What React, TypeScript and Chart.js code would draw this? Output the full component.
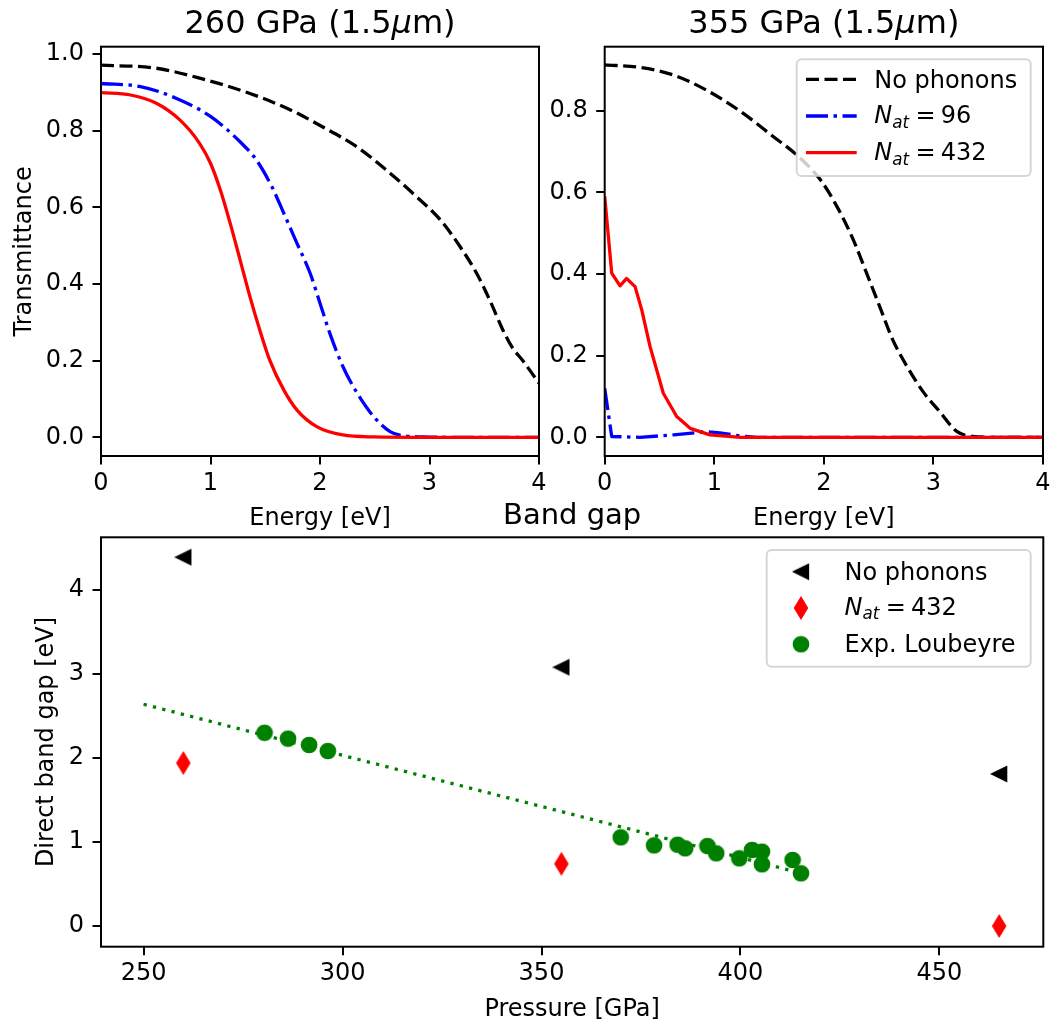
import React, { useEffect, useRef } from 'react';
import { Chart, registerables } from 'chart.js';

Chart.register(...registerables);

// ---------------- DATA ----------------
const seriesNames = ['No phonons', 'N_at = 96', 'N_at = 432'];

// Panel 1: 260 GPa (1.5 µm) — transmittance vs energy
const e260NoPhonons = [0, 0.5, 0.9, 1.36, 1.73, 2.03, 2.34, 2.64, 2.88, 3.1, 3.28, 3.43, 3.55, 3.67, 3.75, 3.86, 4.0];
const t260NoPhonons = [0.971, 0.963, 0.937, 0.897, 0.854, 0.809, 0.757, 0.689, 0.628, 0.567, 0.497, 0.428, 0.358, 0.28, 0.237, 0.197, 0.141];
const e260Nat96 = [0, 0.36, 0.69, 1.0, 1.27, 1.42, 1.56, 1.67, 1.79, 1.91, 2.0, 2.09, 2.21, 2.34, 2.49, 2.64, 2.76, 2.94, 3.2, 4.0];
const t260Nat96 = [0.923, 0.915, 0.884, 0.837, 0.771, 0.723, 0.654, 0.584, 0.506, 0.428, 0.35, 0.271, 0.184, 0.115, 0.054, 0.015, 0.004, 0.001, 0, 0];
const e260Nat432 = [0, 0.27, 0.51, 0.72, 0.9, 1.0, 1.09, 1.18, 1.27, 1.36, 1.45, 1.54, 1.67, 1.79, 1.97, 2.21, 2.49, 2.94, 4.0];
const t260Nat432 = [0.899, 0.893, 0.871, 0.828, 0.767, 0.715, 0.645, 0.558, 0.463, 0.367, 0.28, 0.202, 0.123, 0.071, 0.028, 0.006, 0.001, 0, 0];

// Panel 2: 355 GPa (1.5 µm)
const e355NoPhonons = [0, 0.32, 0.63, 0.93, 1.24, 1.54, 1.75, 1.97, 2.12, 2.27, 2.39, 2.51, 2.63, 2.76, 2.91, 3.06, 3.21, 3.36, 3.52, 4.0];
const t355NoPhonons = [0.912, 0.906, 0.887, 0.85, 0.798, 0.736, 0.692, 0.63, 0.565, 0.483, 0.402, 0.32, 0.238, 0.173, 0.11, 0.062, 0.015, 0.002, 0, 0];
const e355Nat96 = [0, 0.064, 0.32, 0.63, 0.93, 1.05, 1.24, 1.39, 4.0];
const t355Nat96 = [0.12, 0.002, 0, 0.006, 0.014, 0.011, 0.003, 0, 0];
const e355Nat432 = [0, 0.064, 0.14, 0.2, 0.277, 0.338, 0.414, 0.535, 0.657, 0.78, 0.96, 1.24, 4.0];
const t355Nat432 = [0.59, 0.402, 0.371, 0.389, 0.369, 0.312, 0.222, 0.108, 0.051, 0.022, 0.006, 0, 0];

const energyTicks = [0, 1, 2, 3, 4];
const transTicks260 = [0, 0.2, 0.4, 0.6, 0.8, 1.0];
const transTicks355 = [0, 0.2, 0.4, 0.6, 0.8];

// Panel 3: Band gap vs pressure
const pressureNoPhonons = [260, 355, 465];
const gapNoPhonons = [4.39, 3.08, 1.81];
const pressureNat432 = [260, 355, 465];
const gapNat432 = [1.94, 0.74, 0.0];
const pressureExp = [280.4, 286.3, 291.6, 296.3, 369.9, 378.3, 384.2, 386.1, 391.7, 393.9, 399.7, 402.9, 405.4, 405.4, 413.1, 415.2];
const gapExp = [2.3, 2.23, 2.155, 2.083, 1.056, 0.96, 0.968, 0.925, 0.952, 0.865, 0.806, 0.905, 0.885, 0.734, 0.786, 0.627];
const pressureFit = [250, 415.2];
const gapFit = [2.64, 0.63];
const pressureTicks = [250, 300, 350, 400, 450];
const gapTicks = [0, 1, 2, 3, 4];

// ---------------- STYLE ----------------
const FAMILY = '"DejaVu Sans"';
const LW = 3.3;
const DASH_NO = [13, 5.5];
const DASH_96 = [22, 5.5, 3.5, 5.5];
const DASH_FIT = [3.3, 6.3];
const BLACK = '#000000';
const BLUE = '#0000ff';
const RED = '#ff0000';
const GREEN = '#008000';

type Seg = { t: string; size: number; italic?: boolean; dy?: number; gap?: number };

function segFont(s: Seg) {
  return `${s.italic ? 'italic ' : ''}${s.size}px ${FAMILY}`;
}
function richWidth(ctx: CanvasRenderingContext2D, segs: Seg[]) {
  let w = 0;
  for (const s of segs) {
    ctx.font = segFont(s);
    w += (s.gap || 0) + ctx.measureText(s.t).width;
  }
  return w;
}
function drawRich(ctx: CanvasRenderingContext2D, segs: Seg[], x: number, y: number, align: 'left' | 'center') {
  ctx.save();
  ctx.fillStyle = '#000';
  ctx.textAlign = 'left';
  ctx.textBaseline = 'alphabetic';
  const w = richWidth(ctx, segs);
  let cx = align === 'center' ? x - w / 2 : x;
  for (const s of segs) {
    cx += s.gap || 0;
    ctx.font = segFont(s);
    ctx.fillText(s.t, cx, y + (s.dy || 0));
    cx += ctx.measureText(s.t).width;
  }
  ctx.restore();
}
function drawRotated(ctx: CanvasRenderingContext2D, segs: Seg[], baselineX: number, centerY: number) {
  ctx.save();
  ctx.translate(baselineX, centerY);
  ctx.rotate(-Math.PI / 2);
  drawRich(ctx, segs, 0, 0, 'center');
  ctx.restore();
}
function titleSegs(p: string): Seg[] {
  return [
    { t: `${p} GPa (1.5`, size: 32 },
    { t: 'μ', size: 32, italic: true },
    { t: 'm)', size: 32 },
  ];
}
function natSegs(n: string, size: number): Seg[] {
  return [
    { t: 'N', size, italic: true },
    { t: 'at', size: size * 0.7, italic: true, dy: 4.5 },
    { t: '=', size, gap: 6.5 },
    { t: n, size, gap: 5 },
  ];
}
function drawFrame(chart: any) {
  const { ctx, chartArea: a } = chart;
  ctx.save();
  ctx.strokeStyle = '#000';
  ctx.lineWidth = 2;
  ctx.setLineDash([]);
  ctx.strokeRect(a.left, a.top, a.right - a.left, a.bottom - a.top);
  ctx.restore();
}
function legendBox(ctx: CanvasRenderingContext2D, x: number, y: number, w: number, h: number) {
  ctx.save();
  ctx.beginPath();
  (ctx as any).roundRect(x, y, w, h, 5);
  ctx.fillStyle = 'rgba(255,255,255,0.8)';
  ctx.fill();
  ctx.strokeStyle = 'rgba(204,204,204,0.8)';
  ctx.lineWidth = 2;
  ctx.stroke();
  ctx.restore();
}

function markerCanvas(kind: 'tri' | 'diamond' | 'circle', color: string): HTMLCanvasElement {
  const c = document.createElement('canvas');
  const W = kind === 'diamond' ? 16 : 18;
  const H = kind === 'diamond' ? 26 : 18;
  c.width = W;
  c.height = H;
  const g = c.getContext('2d')!;
  g.fillStyle = color;
  g.strokeStyle = color;
  g.lineWidth = 1.5;
  const cx = W / 2;
  const cy = H / 2;
  g.beginPath();
  if (kind === 'tri') {
    const s = 7.4;
    g.moveTo(cx - s, cy);
    g.lineTo(cx + s, cy - s);
    g.lineTo(cx + s, cy + s);
    g.closePath();
  } else if (kind === 'diamond') {
    const hh = 10.6;
    const hw = 6.4;
    g.moveTo(cx, cy - hh);
    g.lineTo(cx + hw, cy);
    g.lineTo(cx, cy + hh);
    g.lineTo(cx - hw, cy);
    g.closePath();
  } else {
    g.arc(cx, cy, 7.6, 0, Math.PI * 2);
  }
  g.fill();
  g.stroke();
  return c;
}

function pts(xs: number[], ys: number[]) {
  return xs.map((x, i) => ({ x, y: ys[i] }));
}

function axis(min: number, max: number, ticks: number[], fmt: (v: number) => string, isX: boolean, fixed: number) {
  return {
    type: 'linear',
    min,
    max,
    afterBuildTicks: (s: any) => {
      s.ticks = ticks.map((v) => ({ value: v }));
    },
    afterFit: (s: any) => {
      if (isX) s.height = fixed;
      else s.width = fixed;
      s.paddingLeft = 0;
      s.paddingRight = 0;
      s.paddingTop = 0;
      s.paddingBottom = 0;
    },
    grid: {
      display: true,
      drawOnChartArea: false,
      drawTicks: true,
      tickLength: 8.5,
      tickWidth: 2,
      tickColor: '#000',
      color: '#000',
      lineWidth: 2,
    },
    border: { display: false },
    ticks: {
      color: '#000',
      font: { family: FAMILY, size: 24 },
      padding: isX ? 4.5 : 8.5,
      autoSkip: false,
      maxRotation: 0,
      minRotation: 0,
      includeBounds: false,
      callback: (v: any) => fmt(Number(v)),
    },
  };
}

const fmt1 = (v: number) => v.toFixed(1);
const fmt0 = (v: number) => String(Math.round(v));

function lineDs(label: string, xs: number[], ys: number[], color: string, dash: number[], smooth: boolean) {
  return {
    label,
    data: pts(xs, ys),
    borderColor: color,
    backgroundColor: color,
    borderWidth: LW,
    borderDash: dash,
    borderCapStyle: 'butt',
    borderJoinStyle: 'round',
    pointRadius: 0,
    fill: false,
    tension: smooth ? 0.4 : 0,
    cubicInterpolationMode: smooth ? 'monotone' : 'default',
  };
}

function makeTL(canvas: HTMLCanvasElement) {
  return new Chart(canvas, {
    type: 'line',
    data: {
      datasets: [
        lineDs(seriesNames[2], e260Nat432, t260Nat432, RED, [], true),
        lineDs(seriesNames[1], e260Nat96, t260Nat96, BLUE, DASH_96, true),
        lineDs(seriesNames[0], e260NoPhonons, t260NoPhonons, BLACK, DASH_NO, true),
      ] as any,
    },
    options: {
      responsive: false,
      animation: false,
      devicePixelRatio: 1,
      events: [],
      layout: { padding: { left: 0, top: 46.7, right: 31, bottom: 0 } },
      scales: {
        x: axis(0, 4, energyTicks, fmt0, true, 84) as any,
        y: axis(-0.0488, 1.019, transTicks260, fmt1, false, 101) as any,
      },
      plugins: { legend: { display: false }, tooltip: { enabled: false } },
    },
    plugins: [
      {
        id: 'decorTL',
        afterDatasetsDraw: (chart: any) => drawFrame(chart),
        afterDraw: (chart: any) => {
          const { ctx, chartArea: a } = chart;
          const cx = (a.left + a.right) / 2;
          drawRich(ctx, titleSegs('260'), cx, a.top - 13.5, 'center');
          drawRich(ctx, [{ t: 'Energy [eV]', size: 24 }], cx, a.bottom + 69, 'center');
          drawRotated(ctx, [{ t: 'Transmittance', size: 24 }], a.left - 69.7, (a.top + a.bottom) / 2);
        },
      },
    ],
  } as any);
}

function makeTR(canvas: HTMLCanvasElement) {
  return new Chart(canvas, {
    type: 'line',
    data: {
      datasets: [
        lineDs(seriesNames[2], e355Nat432, t355Nat432, RED, [], false),
        lineDs(seriesNames[1], e355Nat96, t355Nat96, BLUE, DASH_96, false),
        lineDs(seriesNames[0], e355NoPhonons, t355NoPhonons, BLACK, DASH_NO, true),
      ] as any,
    },
    options: {
      responsive: false,
      animation: false,
      devicePixelRatio: 1,
      events: [],
      layout: { padding: { left: 0, top: 46.7, right: 10, bottom: 0 } },
      scales: {
        x: axis(0, 4, energyTicks, fmt0, true, 84) as any,
        y: axis(-0.0458, 0.9566, transTicks355, fmt1, false, 64.7) as any,
      },
      plugins: { legend: { display: false }, tooltip: { enabled: false } },
    },
    plugins: [
      {
        id: 'decorTR',
        afterDatasetsDraw: (chart: any) => drawFrame(chart),
        afterDraw: (chart: any) => {
          const { ctx, chartArea: a } = chart;
          const cx = (a.left + a.right) / 2;
          drawRich(ctx, titleSegs('355'), cx, a.top - 13.5, 'center');
          drawRich(ctx, [{ t: 'Energy [eV]', size: 24 }], cx, a.bottom + 69, 'center');
          const bx = a.right - 246.3;
          const by = a.top + 12.6;
          legendBox(ctx, bx, by, 234, 116.7);
          const rows = [
            { color: BLACK, dash: DASH_NO, label: [{ t: seriesNames[0], size: 24 }] as Seg[], off: 8.5 },
            { color: BLUE, dash: DASH_96, label: natSegs('96', 24), off: 7.3 },
            { color: RED, dash: [] as number[], label: natSegs('432', 24), off: 7.3 },
          ];
          rows.forEach((r, i) => {
            const ry = by + 20 + i * 36.7;
            ctx.save();
            ctx.strokeStyle = r.color;
            ctx.lineWidth = LW;
            ctx.lineCap = 'butt';
            ctx.setLineDash(r.dash);
            ctx.beginPath();
            ctx.moveTo(bx + 9.3, ry);
            ctx.lineTo(bx + 60, ry);
            ctx.stroke();
            ctx.restore();
            drawRich(ctx, r.label, bx + 77.5, ry + r.off, 'left');
          });
        },
      },
    ],
  } as any);
}

function makeBottom(canvas: HTMLCanvasElement) {
  const tri = markerCanvas('tri', BLACK);
  const dia = markerCanvas('diamond', RED);
  const circ = markerCanvas('circle', GREEN);
  return new Chart(canvas, {
    type: 'scatter',
    data: {
      datasets: [
        { label: 'Exp. Loubeyre', data: pts(pressureExp, gapExp), pointStyle: circ, pointRadius: 8, showLine: false },
        { label: seriesNames[2], data: pts(pressureNat432, gapNat432), pointStyle: dia, pointRadius: 8, showLine: false },
        { label: seriesNames[0], data: pts(pressureNoPhonons, gapNoPhonons), pointStyle: tri, pointRadius: 8, showLine: false },
        {
          label: 'fit',
          data: pts(pressureFit, gapFit),
          showLine: true,
          borderColor: GREEN,
          borderWidth: LW,
          borderDash: DASH_FIT,
          borderCapStyle: 'butt',
          pointRadius: 0,
          fill: false,
        },
      ] as any,
    },
    options: {
      responsive: false,
      animation: false,
      devicePixelRatio: 1,
      events: [],
      layout: { padding: { left: 0, top: 47.3, right: 9.7, bottom: 0 } },
      scales: {
        x: axis(239.3, 476.1, pressureTicks, fmt0, true, 75.3) as any,
        y: axis(-0.246, 4.627, gapTicks, fmt0, false, 101) as any,
      },
      plugins: { legend: { display: false }, tooltip: { enabled: false } },
    },
    plugins: [
      {
        id: 'decorBottom',
        afterDatasetsDraw: (chart: any) => drawFrame(chart),
        afterDraw: (chart: any) => {
          const { ctx, chartArea: a } = chart;
          const cx = (a.left + a.right) / 2;
          drawRich(ctx, [{ t: 'Band gap', size: 29 }], cx, a.top - 13.5, 'center');
          drawRich(ctx, [{ t: 'Pressure [GPa]', size: 24 }], cx, a.bottom + 69, 'center');
          drawRotated(ctx, [{ t: 'Direct band gap [eV]', size: 24 }], a.left - 48, (a.top + a.bottom) / 2);
          const bx = a.right - 276.6;
          const by = a.top + 12.7;
          legendBox(ctx, bx, by, 264, 116.7);
          const rows = [
            { img: tri, label: [{ t: seriesNames[0], size: 24 }] as Seg[], off: 8 },
            { img: dia, label: natSegs('432', 24), off: 6.5 },
            { img: circ, label: [{ t: 'Exp. Loubeyre', size: 24 }] as Seg[], off: 8 },
          ];
          rows.forEach((r, i) => {
            const ry = by + 21.7 + i * 36.3;
            ctx.drawImage(r.img, bx + 34.3 - r.img.width / 2, ry - r.img.height / 2);
            drawRich(ctx, r.label, bx + 77.8, ry + r.off, 'left');
          });
        },
      },
    ],
  } as any);
}

function ChartCanvas(props: { left: number; top: number; width: number; height: number; make: (c: HTMLCanvasElement) => Chart }) {
  const ref = useRef<HTMLCanvasElement>(null);
  useEffect(() => {
    const chart = props.make(ref.current!);
    return () => chart.destroy();
  }, []);
  return (
    <canvas
      ref={ref}
      width={props.width}
      height={props.height}
      style={{ position: 'absolute', left: props.left, top: props.top, width: props.width, height: props.height }}
    />
  );
}

export default function App() {
  return (
    <div style={{ position: 'absolute', left: 0, top: 0, width: 1053, height: 1022, background: '#fff', overflow: 'hidden' }}>
      <ChartCanvas left={0} top={0} width={570} height={540} make={makeTL} />
      <ChartCanvas left={540} top={0} width={513} height={540} make={makeTR} />
      <ChartCanvas left={0} top={490} width={1053} height={532} make={makeBottom} />
    </div>
  );
}
